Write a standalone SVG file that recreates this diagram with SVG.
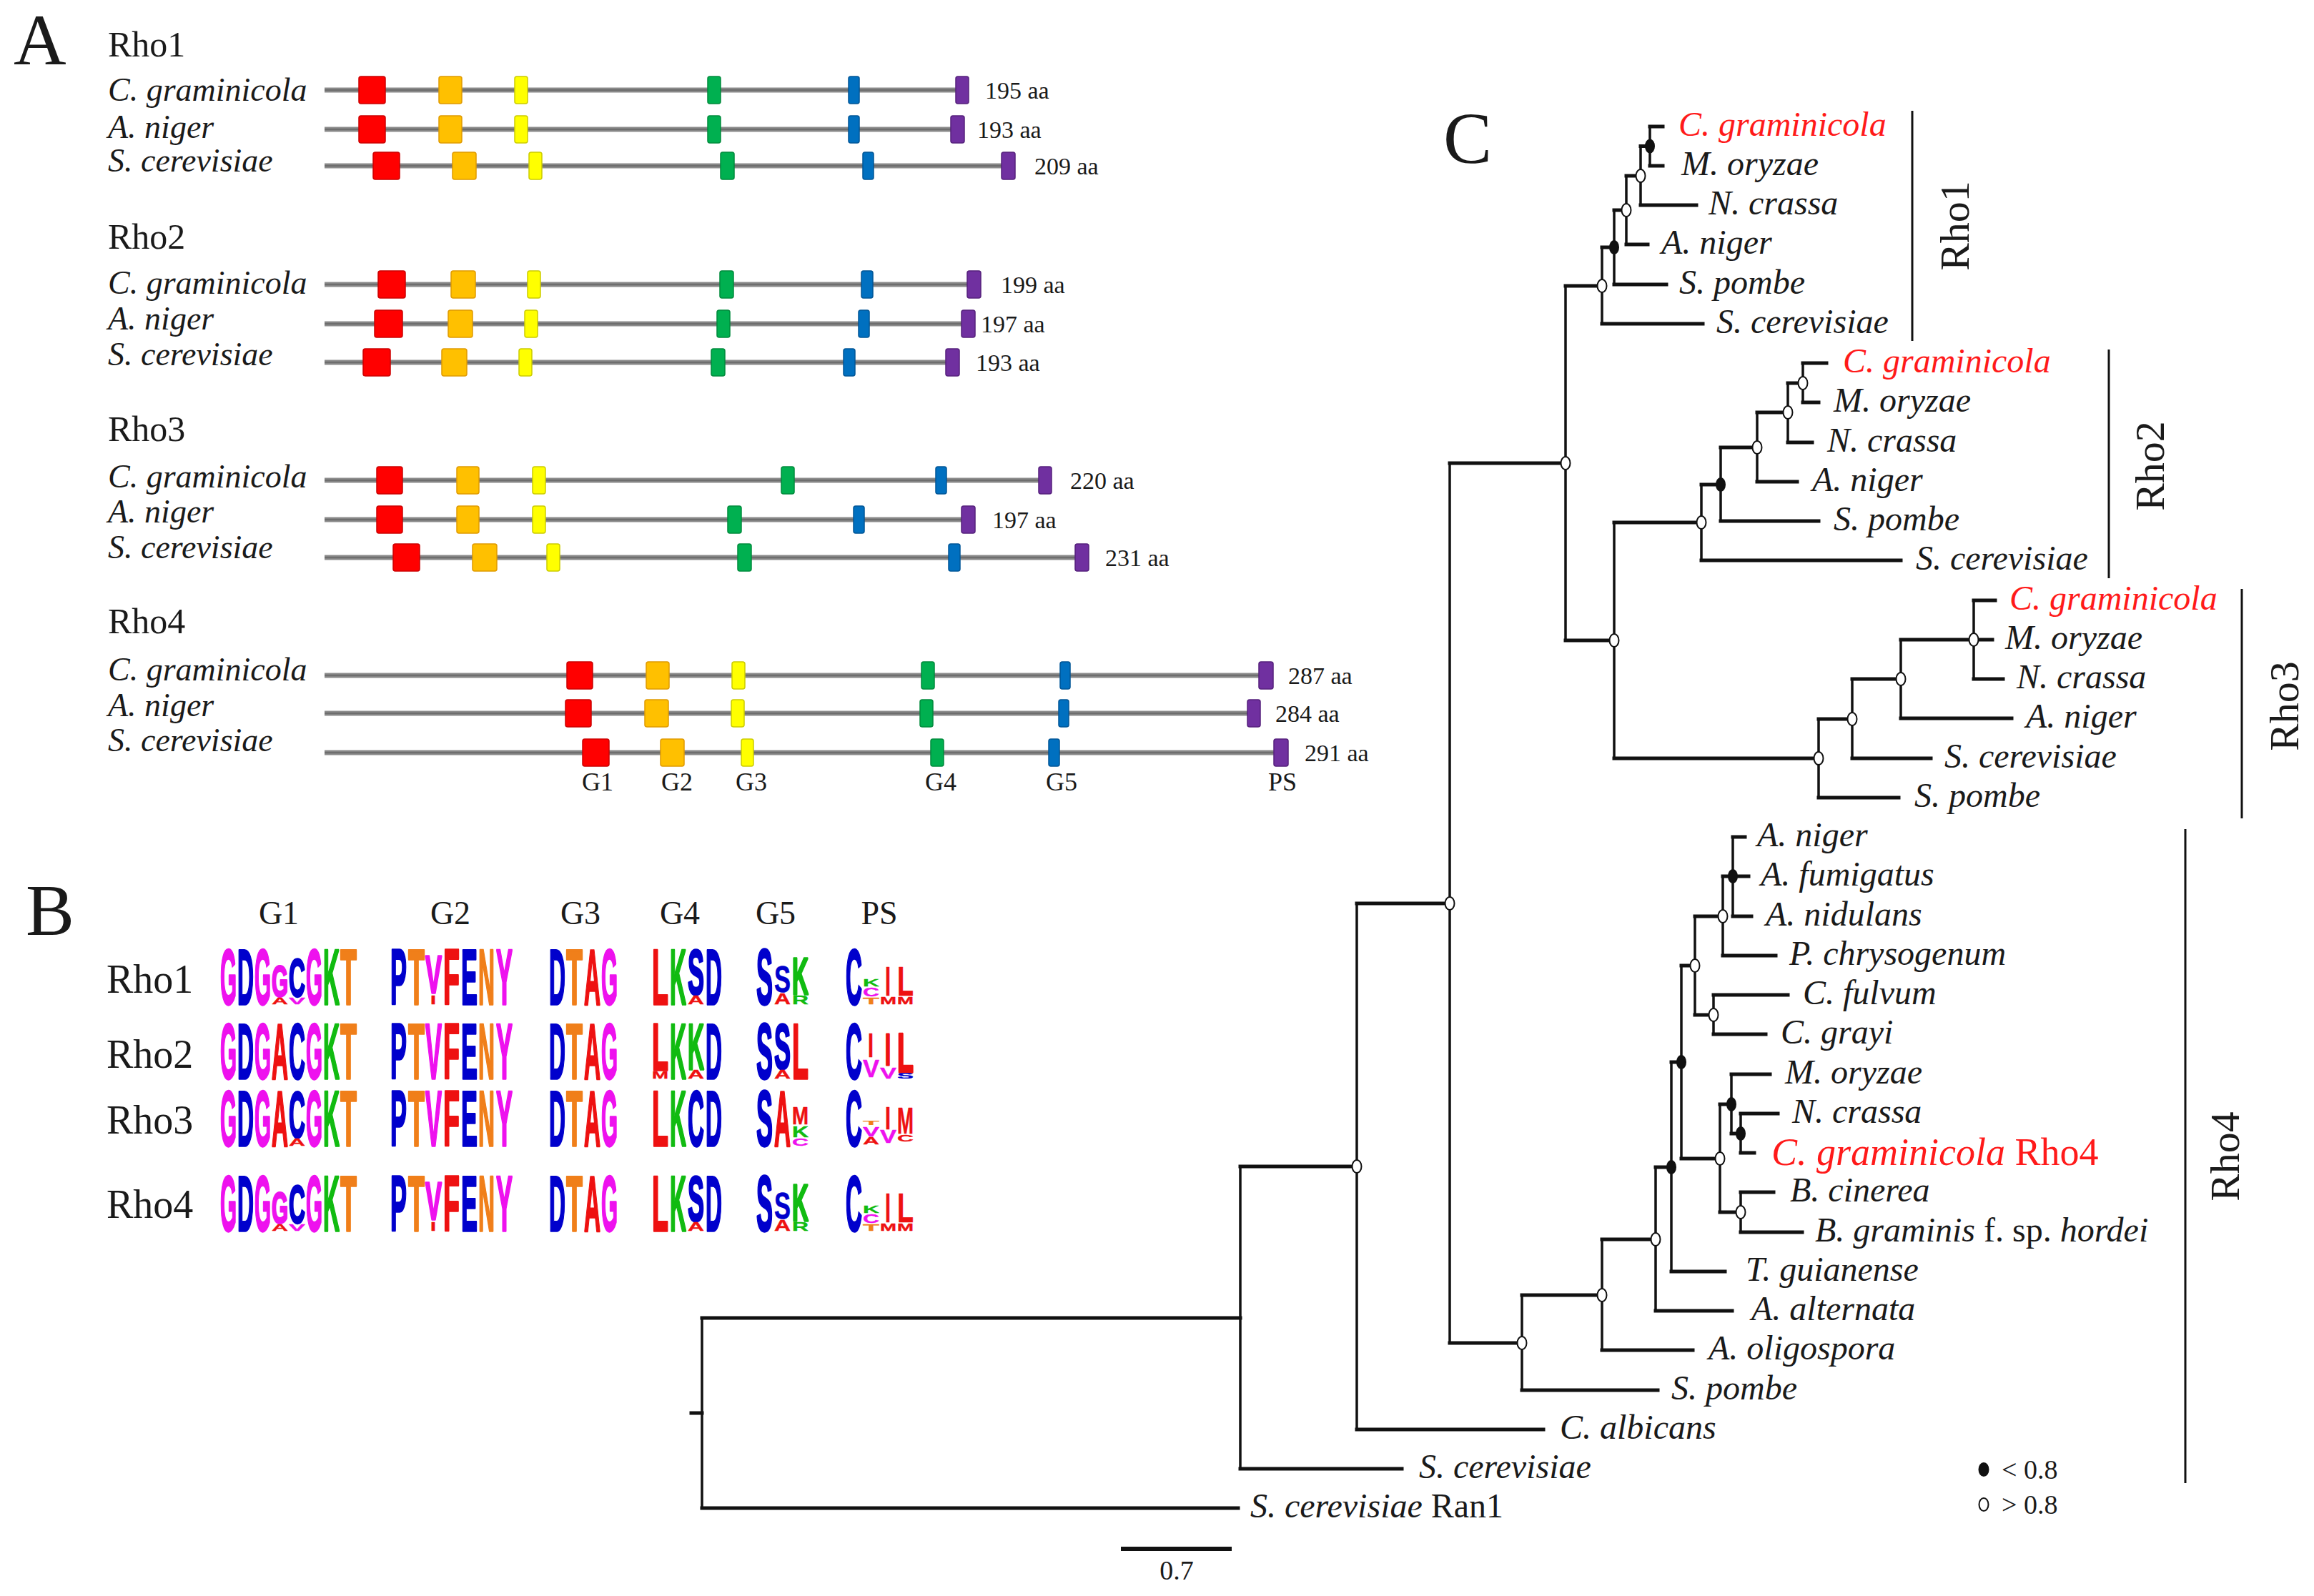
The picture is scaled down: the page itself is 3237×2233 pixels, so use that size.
<svg xmlns="http://www.w3.org/2000/svg" width="3237" height="2233" viewBox="0 0 3237 2233">
<style>
.t{font-family:"Liberation Serif","Times New Roman",serif;fill:#1a1a1a}
.i{font-style:italic}
.red{fill:#ff1a1a}
.pl{font-size:102px}
.rl{font-size:50px}
.sp{font-size:46px;font-style:italic}
.aa{font-size:34px}
.gl{font-size:36px}
.lf{font-size:48px}
.bk{fill:none;stroke:#8c8c8c;stroke-width:7}
.bc{fill:none;stroke:#6e6e6e;stroke-width:2.5}
.cr{fill:#ff0000;stroke:#cc0000;stroke-width:1.5}
.co{fill:#ffc000;stroke:#e09a00;stroke-width:1.5}
.cy{fill:#ffff00;stroke:#cccc00;stroke-width:1.5}
.cg{fill:#00b050;stroke:#008a3c;stroke-width:1.5}
.cb{fill:#0070c0;stroke:#005596;stroke-width:1.5}
.cp{fill:#7030a0;stroke:#55207c;stroke-width:1.5}
.L{font-family:"Liberation Sans",Arial,sans-serif;font-weight:bold;font-size:30px;stroke-width:0.5;vector-effect:non-scaling-stroke;stroke-linejoin:round}
.L[transform$="3.63)"],.L[transform$="3.09)"],.L[transform$="3.01)"],.L[transform$="3.05)"],.L[transform$="2.98)"],.L[transform$="2.58)"],.L[transform$="2.5)"],.L[transform$="2.47)"],.L[transform$="2.43)"],.L[transform$="2.11)"],.L[transform$="2.03)"]{stroke-width:2.5}
.lm{fill:#ee11ee;stroke:#ee11ee}.lb{fill:#0000cc;stroke:#0000cc}.lg{fill:#11bb11;stroke:#11bb11}.lo{fill:#f07f1a;stroke:#f07f1a}.lr{fill:#ee1111;stroke:#ee1111}
.h{fill:none;stroke:#111;stroke-width:5;stroke-linecap:square}
.v{fill:none;stroke:#111;stroke-width:3.5;stroke-linecap:square}
.no{fill:#fff;stroke:#111;stroke-width:2}
.nb{fill:#111;stroke:#111;stroke-width:2}
.brk{stroke:#111;stroke-width:3}
</style>
<rect width="3237" height="2233" fill="#fff"/>

<!-- Panel letters -->
<text class="t pl" x="19" y="90">A</text>
<text class="t pl" x="36" y="1308">B</text>
<text class="t pl" x="2019" y="228">C</text>

<!-- Panel A -->
<g id="panelA">
<g id="A-rho1">
<text class="t rl" x="151" y="79">Rho1</text>
<text class="t sp" x="151" y="141">C. graminicola</text>
<text class="t sp" x="151" y="193">A. niger</text>
<text class="t sp" x="151" y="240">S. cerevisiae</text>
<path class="bk" d="M454 126H1350M454 181H1345M454 232H1415"/>
<path class="bc" d="M454 126H1350M454 181H1345M454 232H1415"/>
<rect class="cr" x="502" y="107" width="37" height="38" rx="3"/><rect class="co" x="614" y="107" width="32" height="38" rx="3"/><rect class="cy" x="720" y="107" width="18" height="38" rx="3"/><rect class="cg" x="990" y="107" width="18" height="38" rx="3"/><rect class="cb" x="1187" y="107" width="15" height="38" rx="3"/><rect class="cp" x="1337" y="107" width="18" height="38" rx="3"/>
<rect class="cr" x="502" y="162" width="37" height="38" rx="3"/><rect class="co" x="614" y="162" width="32" height="38" rx="3"/><rect class="cy" x="720" y="162" width="18" height="38" rx="3"/><rect class="cg" x="990" y="162" width="18" height="38" rx="3"/><rect class="cb" x="1187" y="162" width="15" height="38" rx="3"/><rect class="cp" x="1330" y="162" width="19" height="38" rx="3"/>
<rect class="cr" x="522" y="213" width="37" height="38" rx="3"/><rect class="co" x="633" y="213" width="33" height="38" rx="3"/><rect class="cy" x="740" y="213" width="18" height="38" rx="3"/><rect class="cg" x="1008" y="213" width="19" height="38" rx="3"/><rect class="cb" x="1207" y="213" width="15" height="38" rx="3"/><rect class="cp" x="1401" y="213" width="19" height="38" rx="3"/>
<text class="t aa" x="1378" y="138">195 aa</text>
<text class="t aa" x="1367" y="193">193 aa</text>
<text class="t aa" x="1447" y="244">209 aa</text>
</g>
<g id="A-rho2">
<text class="t rl" x="151" y="348">Rho2</text>
<text class="t sp" x="151" y="411">C. graminicola</text>
<text class="t sp" x="151" y="461">A. niger</text>
<text class="t sp" x="151" y="511">S. cerevisiae</text>
<path class="bk" d="M454 398H1365M454 453H1358M454 507H1335"/>
<path class="bc" d="M454 398H1365M454 453H1358M454 507H1335"/>
<rect class="cr" x="529" y="379" width="38" height="38" rx="3"/><rect class="co" x="631" y="379" width="34" height="38" rx="3"/><rect class="cy" x="738" y="379" width="18" height="38" rx="3"/><rect class="cg" x="1007" y="379" width="19" height="38" rx="3"/><rect class="cb" x="1205" y="379" width="16" height="38" rx="3"/><rect class="cp" x="1353" y="379" width="19" height="38" rx="3"/>
<rect class="cr" x="524" y="434" width="39" height="38" rx="3"/><rect class="co" x="627" y="434" width="34" height="38" rx="3"/><rect class="cy" x="734" y="434" width="18" height="38" rx="3"/><rect class="cg" x="1003" y="434" width="18" height="38" rx="3"/><rect class="cb" x="1201" y="434" width="15" height="38" rx="3"/><rect class="cp" x="1345" y="434" width="19" height="38" rx="3"/>
<rect class="cr" x="508" y="488" width="38" height="38" rx="3"/><rect class="co" x="618" y="488" width="35" height="38" rx="3"/><rect class="cy" x="726" y="488" width="18" height="38" rx="3"/><rect class="cg" x="995" y="488" width="19" height="38" rx="3"/><rect class="cb" x="1180" y="488" width="16" height="38" rx="3"/><rect class="cp" x="1323" y="488" width="19" height="38" rx="3"/>
<text class="t aa" x="1400" y="410">199 aa</text>
<text class="t aa" x="1372" y="465">197 aa</text>
<text class="t aa" x="1365" y="519">193 aa</text>
</g>
<g id="A-rho3">
<text class="t rl" x="151" y="617">Rho3</text>
<text class="t sp" x="151" y="682">C. graminicola</text>
<text class="t sp" x="151" y="731">A. niger</text>
<text class="t sp" x="151" y="781">S. cerevisiae</text>
<path class="bk" d="M454 672H1465M454 727H1358M454 780H1517"/>
<path class="bc" d="M454 672H1465M454 727H1358M454 780H1517"/>
<rect class="cr" x="527" y="653" width="36" height="38" rx="3"/><rect class="co" x="639" y="653" width="31" height="38" rx="3"/><rect class="cy" x="745" y="653" width="18" height="38" rx="3"/><rect class="cg" x="1093" y="653" width="18" height="38" rx="3"/><rect class="cb" x="1309" y="653" width="15" height="38" rx="3"/><rect class="cp" x="1453" y="653" width="18" height="38" rx="3"/>
<rect class="cr" x="527" y="708" width="36" height="38" rx="3"/><rect class="co" x="639" y="708" width="31" height="38" rx="3"/><rect class="cy" x="745" y="708" width="18" height="38" rx="3"/><rect class="cg" x="1018" y="708" width="19" height="38" rx="3"/><rect class="cb" x="1194" y="708" width="15" height="38" rx="3"/><rect class="cp" x="1345" y="708" width="19" height="38" rx="3"/>
<rect class="cr" x="550" y="761" width="37" height="38" rx="3"/><rect class="co" x="661" y="761" width="34" height="38" rx="3"/><rect class="cy" x="765" y="761" width="18" height="38" rx="3"/><rect class="cg" x="1032" y="761" width="19" height="38" rx="3"/><rect class="cb" x="1327" y="761" width="16" height="38" rx="3"/><rect class="cp" x="1504" y="761" width="19" height="38" rx="3"/>
<text class="t aa" x="1497" y="684">220 aa</text>
<text class="t aa" x="1388" y="739">197 aa</text>
<text class="t aa" x="1546" y="792">231 aa</text>
</g>
<g id="A-rho4">
<text class="t rl" x="151" y="886">Rho4</text>
<text class="t sp" x="151" y="952">C. graminicola</text>
<text class="t sp" x="151" y="1002">A. niger</text>
<text class="t sp" x="151" y="1051">S. cerevisiae</text>
<path class="bk" d="M454 945H1775M454 998H1758M454 1053H1796"/>
<path class="bc" d="M454 945H1775M454 998H1758M454 1053H1796"/>
<rect class="cr" x="793" y="926" width="36" height="38" rx="3"/><rect class="co" x="904" y="926" width="32" height="38" rx="3"/><rect class="cy" x="1024" y="926" width="18" height="38" rx="3"/><rect class="cg" x="1289" y="926" width="18" height="38" rx="3"/><rect class="cb" x="1483" y="926" width="14" height="38" rx="3"/><rect class="cp" x="1761" y="926" width="20" height="38" rx="3"/>
<rect class="cr" x="791" y="979" width="36" height="38" rx="3"/><rect class="co" x="902" y="979" width="33" height="38" rx="3"/><rect class="cy" x="1023" y="979" width="18" height="38" rx="3"/><rect class="cg" x="1287" y="979" width="18" height="38" rx="3"/><rect class="cb" x="1481" y="979" width="14" height="38" rx="3"/><rect class="cp" x="1745" y="979" width="18" height="38" rx="3"/>
<rect class="cr" x="815" y="1034" width="37" height="38" rx="3"/><rect class="co" x="924" y="1034" width="33" height="38" rx="3"/><rect class="cy" x="1037" y="1034" width="17" height="38" rx="3"/><rect class="cg" x="1302" y="1034" width="18" height="38" rx="3"/><rect class="cb" x="1467" y="1034" width="15" height="38" rx="3"/><rect class="cp" x="1782" y="1034" width="20" height="38" rx="3"/>
<text class="t aa" x="1802" y="957">287 aa</text>
<text class="t aa" x="1784" y="1010">284 aa</text>
<text class="t aa" x="1825" y="1065">291 aa</text>
<g text-anchor="middle">
<text class="t gl" x="836" y="1106">G1</text>
<text class="t gl" x="947" y="1106">G2</text>
<text class="t gl" x="1051" y="1106">G3</text>
<text class="t gl" x="1316" y="1106">G4</text>
<text class="t gl" x="1485" y="1106">G5</text>
<text class="t gl" x="1794" y="1106">PS</text>
</g>
</g>
</g>

<!-- Panel B -->
<g id="panelB">
<g id="B-headers" text-anchor="middle" font-size="46">
<text class="t" x="390" y="1293">G1</text>
<text class="t" x="630" y="1293">G2</text>
<text class="t" x="812" y="1293">G3</text>
<text class="t" x="951" y="1293">G4</text>
<text class="t" x="1085" y="1293">G5</text>
<text class="t" x="1230" y="1293">PS</text>
</g>
<g id="B-labels" font-size="56">
<text class="t" x="149" y="1389">Rho1</text>
<text class="t" x="149" y="1494">Rho2</text>
<text class="t" x="149" y="1586">Rho3</text>
<text class="t" x="149" y="1704">Rho4</text>
</g>
<g id="logo-rho1" transform="translate(0,1327)">
<text class="L lm" transform="translate(308,78) scale(1,3.63)" textLength="23" lengthAdjust="spacingAndGlyphs">G</text>
<text class="L lb" transform="translate(332,78) scale(1,3.63)" textLength="23" lengthAdjust="spacingAndGlyphs">D</text>
<text class="L lm" transform="translate(356,78) scale(1,3.63)" textLength="23" lengthAdjust="spacingAndGlyphs">G</text>
<text class="L lm" transform="translate(380,67.1) scale(1,2.03)" textLength="23" lengthAdjust="spacingAndGlyphs">G</text>
<text class="L lr" transform="translate(380,78) scale(1,0.44)" textLength="23" lengthAdjust="spacingAndGlyphs">A</text>
<text class="L lb" transform="translate(404,67.1) scale(1,2.5)" textLength="23" lengthAdjust="spacingAndGlyphs">C</text>
<text class="L lm" transform="translate(404,78) scale(1,0.44)" textLength="23" lengthAdjust="spacingAndGlyphs">V</text>
<text class="L lm" transform="translate(428,78) scale(1,3.63)" textLength="23" lengthAdjust="spacingAndGlyphs">G</text>
<text class="L lg" transform="translate(452,78) scale(1,3.63)" textLength="23" lengthAdjust="spacingAndGlyphs">K</text>
<text class="L lo" transform="translate(476,78) scale(1,3.63)" textLength="23" lengthAdjust="spacingAndGlyphs">T</text>
<text class="L lb" transform="translate(546,78) scale(1,3.63)" textLength="23" lengthAdjust="spacingAndGlyphs">P</text>
<text class="L lo" transform="translate(571,78) scale(1,3.63)" textLength="23" lengthAdjust="spacingAndGlyphs">T</text>
<text class="L lm" transform="translate(595,62.4) scale(1,2.47)" textLength="23" lengthAdjust="spacingAndGlyphs">V</text>
<text class="L lr" transform="translate(602,78) scale(1,0.58)" textLength="8" lengthAdjust="spacingAndGlyphs">I</text>
<text class="L lr" transform="translate(620,78) scale(1,3.63)" textLength="23" lengthAdjust="spacingAndGlyphs">F</text>
<text class="L lb" transform="translate(645,78) scale(1,3.63)" textLength="23" lengthAdjust="spacingAndGlyphs">E</text>
<text class="L lo" transform="translate(669,78) scale(1,3.63)" textLength="23" lengthAdjust="spacingAndGlyphs">N</text>
<text class="L lm" transform="translate(694,78) scale(1,3.63)" textLength="23" lengthAdjust="spacingAndGlyphs">Y</text>
<text class="L lb" transform="translate(768,78) scale(1,3.63)" textLength="23" lengthAdjust="spacingAndGlyphs">D</text>
<text class="L lo" transform="translate(792,78) scale(1,3.63)" textLength="23" lengthAdjust="spacingAndGlyphs">T</text>
<text class="L lr" transform="translate(817,78) scale(1,3.63)" textLength="23" lengthAdjust="spacingAndGlyphs">A</text>
<text class="L lm" transform="translate(841,78) scale(1,3.63)" textLength="23" lengthAdjust="spacingAndGlyphs">G</text>
<text class="L lr" transform="translate(912,78) scale(1,3.63)" textLength="23" lengthAdjust="spacingAndGlyphs">L</text>
<text class="L lg" transform="translate(937,78) scale(1,3.63)" textLength="23" lengthAdjust="spacingAndGlyphs">K</text>
<text class="L lb" transform="translate(962,64) scale(1,2.98)" textLength="23" lengthAdjust="spacingAndGlyphs">S</text>
<text class="L lr" transform="translate(962,78) scale(1,0.58)" textLength="23" lengthAdjust="spacingAndGlyphs">A</text>
<text class="L lb" transform="translate(987,78) scale(1,3.63)" textLength="23" lengthAdjust="spacingAndGlyphs">D</text>
<text class="L lb" transform="translate(1058,78) scale(1,3.63)" textLength="23" lengthAdjust="spacingAndGlyphs">S</text>
<text class="L lb" transform="translate(1083,60.8) scale(1,1.74)" textLength="23" lengthAdjust="spacingAndGlyphs">S</text>
<text class="L lr" transform="translate(1083,78) scale(1,0.73)" textLength="23" lengthAdjust="spacingAndGlyphs">A</text>
<text class="L lg" transform="translate(1108,64) scale(1,2.43)" textLength="23" lengthAdjust="spacingAndGlyphs">K</text>
<text class="L lg" transform="translate(1108,78) scale(1,0.58)" textLength="23" lengthAdjust="spacingAndGlyphs">R</text>
<text class="L lb" transform="translate(1183,78) scale(1,3.63)" textLength="23" lengthAdjust="spacingAndGlyphs">C</text>
<text class="L lg" transform="translate(1207,53) scale(1,0.47)" textLength="23" lengthAdjust="spacingAndGlyphs">K</text>
<text class="L lm" transform="translate(1207,67) scale(1,0.58)" textLength="23" lengthAdjust="spacingAndGlyphs">C</text>
<text class="L lo" transform="translate(1207,78) scale(1,0.44)" textLength="23" lengthAdjust="spacingAndGlyphs">T</text>
<text class="L lr" transform="translate(1238,66.3) scale(1,1.89)" textLength="8" lengthAdjust="spacingAndGlyphs">I</text>
<text class="L lr" transform="translate(1231,78) scale(1,0.51)" textLength="23" lengthAdjust="spacingAndGlyphs">M</text>
<text class="L lr" transform="translate(1255,66.3) scale(1,1.89)" textLength="23" lengthAdjust="spacingAndGlyphs">L</text>
<text class="L lr" transform="translate(1255,78) scale(1,0.51)" textLength="23" lengthAdjust="spacingAndGlyphs">M</text>
</g>
<g id="logo-rho2" transform="translate(0,1431)">
<text class="L lm" transform="translate(308,78) scale(1,3.63)" textLength="23" lengthAdjust="spacingAndGlyphs">G</text>
<text class="L lb" transform="translate(332,78) scale(1,3.63)" textLength="23" lengthAdjust="spacingAndGlyphs">D</text>
<text class="L lm" transform="translate(356,78) scale(1,3.63)" textLength="23" lengthAdjust="spacingAndGlyphs">G</text>
<text class="L lr" transform="translate(380,78) scale(1,3.63)" textLength="23" lengthAdjust="spacingAndGlyphs">A</text>
<text class="L lb" transform="translate(404,78) scale(1,3.63)" textLength="23" lengthAdjust="spacingAndGlyphs">C</text>
<text class="L lm" transform="translate(428,78) scale(1,3.63)" textLength="23" lengthAdjust="spacingAndGlyphs">G</text>
<text class="L lg" transform="translate(452,78) scale(1,3.63)" textLength="23" lengthAdjust="spacingAndGlyphs">K</text>
<text class="L lo" transform="translate(476,78) scale(1,3.63)" textLength="23" lengthAdjust="spacingAndGlyphs">T</text>
<text class="L lb" transform="translate(546,78) scale(1,3.63)" textLength="23" lengthAdjust="spacingAndGlyphs">P</text>
<text class="L lo" transform="translate(571,78) scale(1,3.63)" textLength="23" lengthAdjust="spacingAndGlyphs">T</text>
<text class="L lm" transform="translate(595,78) scale(1,3.63)" textLength="23" lengthAdjust="spacingAndGlyphs">V</text>
<text class="L lr" transform="translate(620,78) scale(1,3.63)" textLength="23" lengthAdjust="spacingAndGlyphs">F</text>
<text class="L lb" transform="translate(645,78) scale(1,3.63)" textLength="23" lengthAdjust="spacingAndGlyphs">E</text>
<text class="L lo" transform="translate(669,78) scale(1,3.63)" textLength="23" lengthAdjust="spacingAndGlyphs">N</text>
<text class="L lm" transform="translate(694,78) scale(1,3.63)" textLength="23" lengthAdjust="spacingAndGlyphs">Y</text>
<text class="L lb" transform="translate(768,78) scale(1,3.63)" textLength="23" lengthAdjust="spacingAndGlyphs">D</text>
<text class="L lo" transform="translate(792,78) scale(1,3.63)" textLength="23" lengthAdjust="spacingAndGlyphs">T</text>
<text class="L lr" transform="translate(817,78) scale(1,3.63)" textLength="23" lengthAdjust="spacingAndGlyphs">A</text>
<text class="L lm" transform="translate(841,78) scale(1,3.63)" textLength="23" lengthAdjust="spacingAndGlyphs">G</text>
<text class="L lr" transform="translate(912,66.3) scale(1,3.09)" textLength="23" lengthAdjust="spacingAndGlyphs">L</text>
<text class="L lr" transform="translate(912,78) scale(1,0.47)" textLength="23" lengthAdjust="spacingAndGlyphs">M</text>
<text class="L lg" transform="translate(937,78) scale(1,3.63)" textLength="23" lengthAdjust="spacingAndGlyphs">K</text>
<text class="L lg" transform="translate(962,64.7) scale(1,3.01)" textLength="23" lengthAdjust="spacingAndGlyphs">K</text>
<text class="L lr" transform="translate(962,78) scale(1,0.54)" textLength="23" lengthAdjust="spacingAndGlyphs">A</text>
<text class="L lb" transform="translate(987,78) scale(1,3.63)" textLength="23" lengthAdjust="spacingAndGlyphs">D</text>
<text class="L lb" transform="translate(1058,78) scale(1,3.63)" textLength="23" lengthAdjust="spacingAndGlyphs">S</text>
<text class="L lb" transform="translate(1083,64) scale(1,2.98)" textLength="23" lengthAdjust="spacingAndGlyphs">S</text>
<text class="L lr" transform="translate(1083,78) scale(1,0.54)" textLength="23" lengthAdjust="spacingAndGlyphs">A</text>
<text class="L lr" transform="translate(1108,78) scale(1,3.63)" textLength="23" lengthAdjust="spacingAndGlyphs">L</text>
<text class="L lb" transform="translate(1183,78) scale(1,3.63)" textLength="23" lengthAdjust="spacingAndGlyphs">C</text>
<text class="L lr" transform="translate(1214,48.4) scale(1,1.63)" textLength="8" lengthAdjust="spacingAndGlyphs">I</text>
<text class="L lm" transform="translate(1207,76.4) scale(1,1.16)" textLength="23" lengthAdjust="spacingAndGlyphs">V</text>
<text class="L lr" transform="translate(1238,58.5) scale(1,2.11)" textLength="8" lengthAdjust="spacingAndGlyphs">I</text>
<text class="L lm" transform="translate(1231,78) scale(1,0.73)" textLength="23" lengthAdjust="spacingAndGlyphs">V</text>
<text class="L lr" transform="translate(1255,68.6) scale(1,2.58)" textLength="23" lengthAdjust="spacingAndGlyphs">L</text>
<text class="L lb" transform="translate(1255,78) scale(1,0.36)" textLength="23" lengthAdjust="spacingAndGlyphs">S</text>
</g>
<g id="logo-rho3" transform="translate(0,1525)">
<text class="L lm" transform="translate(308,78) scale(1,3.63)" textLength="23" lengthAdjust="spacingAndGlyphs">G</text>
<text class="L lb" transform="translate(332,78) scale(1,3.63)" textLength="23" lengthAdjust="spacingAndGlyphs">D</text>
<text class="L lm" transform="translate(356,78) scale(1,3.63)" textLength="23" lengthAdjust="spacingAndGlyphs">G</text>
<text class="L lr" transform="translate(380,78) scale(1,3.63)" textLength="23" lengthAdjust="spacingAndGlyphs">A</text>
<text class="L lb" transform="translate(404,65.5) scale(1,3.05)" textLength="23" lengthAdjust="spacingAndGlyphs">C</text>
<text class="L lr" transform="translate(404,78) scale(1,0.51)" textLength="23" lengthAdjust="spacingAndGlyphs">A</text>
<text class="L lm" transform="translate(428,78) scale(1,3.63)" textLength="23" lengthAdjust="spacingAndGlyphs">G</text>
<text class="L lg" transform="translate(452,78) scale(1,3.63)" textLength="23" lengthAdjust="spacingAndGlyphs">K</text>
<text class="L lo" transform="translate(476,78) scale(1,3.63)" textLength="23" lengthAdjust="spacingAndGlyphs">T</text>
<text class="L lb" transform="translate(546,78) scale(1,3.63)" textLength="23" lengthAdjust="spacingAndGlyphs">P</text>
<text class="L lo" transform="translate(571,78) scale(1,3.63)" textLength="23" lengthAdjust="spacingAndGlyphs">T</text>
<text class="L lm" transform="translate(595,78) scale(1,3.63)" textLength="23" lengthAdjust="spacingAndGlyphs">V</text>
<text class="L lr" transform="translate(620,78) scale(1,3.63)" textLength="23" lengthAdjust="spacingAndGlyphs">F</text>
<text class="L lb" transform="translate(645,78) scale(1,3.63)" textLength="23" lengthAdjust="spacingAndGlyphs">E</text>
<text class="L lo" transform="translate(669,78) scale(1,3.63)" textLength="23" lengthAdjust="spacingAndGlyphs">N</text>
<text class="L lm" transform="translate(694,78) scale(1,3.63)" textLength="23" lengthAdjust="spacingAndGlyphs">Y</text>
<text class="L lb" transform="translate(768,78) scale(1,3.63)" textLength="23" lengthAdjust="spacingAndGlyphs">D</text>
<text class="L lo" transform="translate(792,78) scale(1,3.63)" textLength="23" lengthAdjust="spacingAndGlyphs">T</text>
<text class="L lr" transform="translate(817,78) scale(1,3.63)" textLength="23" lengthAdjust="spacingAndGlyphs">A</text>
<text class="L lm" transform="translate(841,78) scale(1,3.63)" textLength="23" lengthAdjust="spacingAndGlyphs">G</text>
<text class="L lr" transform="translate(912,78) scale(1,3.63)" textLength="23" lengthAdjust="spacingAndGlyphs">L</text>
<text class="L lg" transform="translate(937,78) scale(1,3.63)" textLength="23" lengthAdjust="spacingAndGlyphs">K</text>
<text class="L lb" transform="translate(962,78) scale(1,3.63)" textLength="23" lengthAdjust="spacingAndGlyphs">C</text>
<text class="L lb" transform="translate(987,78) scale(1,3.63)" textLength="23" lengthAdjust="spacingAndGlyphs">D</text>
<text class="L lb" transform="translate(1058,78) scale(1,3.63)" textLength="23" lengthAdjust="spacingAndGlyphs">S</text>
<text class="L lr" transform="translate(1083,78) scale(1,3.63)" textLength="23" lengthAdjust="spacingAndGlyphs">A</text>
<text class="L lr" transform="translate(1108,48.4) scale(1,1.16)" textLength="23" lengthAdjust="spacingAndGlyphs">M</text>
<text class="L lg" transform="translate(1108,66.3) scale(1,0.76)" textLength="23" lengthAdjust="spacingAndGlyphs">K</text>
<text class="L lm" transform="translate(1108,78) scale(1,0.47)" textLength="23" lengthAdjust="spacingAndGlyphs">C</text>
<text class="L lb" transform="translate(1183,78) scale(1,3.63)" textLength="23" lengthAdjust="spacingAndGlyphs">C</text>
<text class="L lo" transform="translate(1207,49.1) scale(1,0.33)" textLength="23" lengthAdjust="spacingAndGlyphs">T</text>
<text class="L lm" transform="translate(1207,64.7) scale(1,0.62)" textLength="23" lengthAdjust="spacingAndGlyphs">V</text>
<text class="L lr" transform="translate(1207,76.4) scale(1,0.47)" textLength="23" lengthAdjust="spacingAndGlyphs">A</text>
<text class="L lr" transform="translate(1238,54.6) scale(1,1.45)" textLength="8" lengthAdjust="spacingAndGlyphs">I</text>
<text class="L lm" transform="translate(1231,74.1) scale(1,0.83)" textLength="23" lengthAdjust="spacingAndGlyphs">V</text>
<text class="L lr" transform="translate(1255,60.8) scale(1,1.74)" textLength="23" lengthAdjust="spacingAndGlyphs">M</text>
<text class="L lr" transform="translate(1255,71.8) scale(1,0.44)" textLength="23" lengthAdjust="spacingAndGlyphs">C</text>
</g>
<g id="logo-rho4" transform="translate(0,1644)">
<text class="L lm" transform="translate(308,78) scale(1,3.63)" textLength="23" lengthAdjust="spacingAndGlyphs">G</text>
<text class="L lb" transform="translate(332,78) scale(1,3.63)" textLength="23" lengthAdjust="spacingAndGlyphs">D</text>
<text class="L lm" transform="translate(356,78) scale(1,3.63)" textLength="23" lengthAdjust="spacingAndGlyphs">G</text>
<text class="L lm" transform="translate(380,67.1) scale(1,2.03)" textLength="23" lengthAdjust="spacingAndGlyphs">G</text>
<text class="L lr" transform="translate(380,78) scale(1,0.44)" textLength="23" lengthAdjust="spacingAndGlyphs">A</text>
<text class="L lb" transform="translate(404,67.1) scale(1,2.5)" textLength="23" lengthAdjust="spacingAndGlyphs">C</text>
<text class="L lm" transform="translate(404,78) scale(1,0.44)" textLength="23" lengthAdjust="spacingAndGlyphs">V</text>
<text class="L lm" transform="translate(428,78) scale(1,3.63)" textLength="23" lengthAdjust="spacingAndGlyphs">G</text>
<text class="L lg" transform="translate(452,78) scale(1,3.63)" textLength="23" lengthAdjust="spacingAndGlyphs">K</text>
<text class="L lo" transform="translate(476,78) scale(1,3.63)" textLength="23" lengthAdjust="spacingAndGlyphs">T</text>
<text class="L lb" transform="translate(546,78) scale(1,3.63)" textLength="23" lengthAdjust="spacingAndGlyphs">P</text>
<text class="L lo" transform="translate(571,78) scale(1,3.63)" textLength="23" lengthAdjust="spacingAndGlyphs">T</text>
<text class="L lm" transform="translate(595,62.4) scale(1,2.47)" textLength="23" lengthAdjust="spacingAndGlyphs">V</text>
<text class="L lr" transform="translate(602,78) scale(1,0.58)" textLength="8" lengthAdjust="spacingAndGlyphs">I</text>
<text class="L lr" transform="translate(620,78) scale(1,3.63)" textLength="23" lengthAdjust="spacingAndGlyphs">F</text>
<text class="L lb" transform="translate(645,78) scale(1,3.63)" textLength="23" lengthAdjust="spacingAndGlyphs">E</text>
<text class="L lo" transform="translate(669,78) scale(1,3.63)" textLength="23" lengthAdjust="spacingAndGlyphs">N</text>
<text class="L lm" transform="translate(694,78) scale(1,3.63)" textLength="23" lengthAdjust="spacingAndGlyphs">Y</text>
<text class="L lb" transform="translate(768,78) scale(1,3.63)" textLength="23" lengthAdjust="spacingAndGlyphs">D</text>
<text class="L lo" transform="translate(792,78) scale(1,3.63)" textLength="23" lengthAdjust="spacingAndGlyphs">T</text>
<text class="L lr" transform="translate(817,78) scale(1,3.63)" textLength="23" lengthAdjust="spacingAndGlyphs">A</text>
<text class="L lm" transform="translate(841,78) scale(1,3.63)" textLength="23" lengthAdjust="spacingAndGlyphs">G</text>
<text class="L lr" transform="translate(912,78) scale(1,3.63)" textLength="23" lengthAdjust="spacingAndGlyphs">L</text>
<text class="L lg" transform="translate(937,78) scale(1,3.63)" textLength="23" lengthAdjust="spacingAndGlyphs">K</text>
<text class="L lb" transform="translate(962,64) scale(1,2.98)" textLength="23" lengthAdjust="spacingAndGlyphs">S</text>
<text class="L lr" transform="translate(962,78) scale(1,0.58)" textLength="23" lengthAdjust="spacingAndGlyphs">A</text>
<text class="L lb" transform="translate(987,78) scale(1,3.63)" textLength="23" lengthAdjust="spacingAndGlyphs">D</text>
<text class="L lb" transform="translate(1058,78) scale(1,3.63)" textLength="23" lengthAdjust="spacingAndGlyphs">S</text>
<text class="L lb" transform="translate(1083,60.8) scale(1,1.74)" textLength="23" lengthAdjust="spacingAndGlyphs">S</text>
<text class="L lr" transform="translate(1083,78) scale(1,0.73)" textLength="23" lengthAdjust="spacingAndGlyphs">A</text>
<text class="L lg" transform="translate(1108,64) scale(1,2.43)" textLength="23" lengthAdjust="spacingAndGlyphs">K</text>
<text class="L lg" transform="translate(1108,78) scale(1,0.58)" textLength="23" lengthAdjust="spacingAndGlyphs">R</text>
<text class="L lb" transform="translate(1183,78) scale(1,3.63)" textLength="23" lengthAdjust="spacingAndGlyphs">C</text>
<text class="L lg" transform="translate(1207,53) scale(1,0.47)" textLength="23" lengthAdjust="spacingAndGlyphs">K</text>
<text class="L lm" transform="translate(1207,67) scale(1,0.58)" textLength="23" lengthAdjust="spacingAndGlyphs">C</text>
<text class="L lo" transform="translate(1207,78) scale(1,0.44)" textLength="23" lengthAdjust="spacingAndGlyphs">T</text>
<text class="L lr" transform="translate(1238,66.3) scale(1,1.89)" textLength="8" lengthAdjust="spacingAndGlyphs">I</text>
<text class="L lr" transform="translate(1231,78) scale(1,0.51)" textLength="23" lengthAdjust="spacingAndGlyphs">M</text>
<text class="L lr" transform="translate(1255,66.3) scale(1,1.89)" textLength="23" lengthAdjust="spacingAndGlyphs">L</text>
<text class="L lr" transform="translate(1255,78) scale(1,0.51)" textLength="23" lengthAdjust="spacingAndGlyphs">M</text>
</g>
</g>

<!-- Panel C: tree -->
<g id="connectors">
<path class="h" d="M2308 177H2326M2308 232H2326M2295 287H2373M2275 342H2305M2258 398H2331M2241 453H2382M2522 508H2555M2522 563H2544M2501 619H2535M2458 674H2514M2407 729H2544M2380 784H2659M2761 840H2791M2761 895H2787M2761 950H2802M2659 1005H2814M2591 1061H2701M2544 1116H2656M2424 1171H2441M2424 1226H2446M2424 1282H2450M2410 1337H2484M2397 1392H2501M2397 1447H2470M2422 1503H2476M2435 1558H2487M2435 1613H2454M2435 1668H2481M2435 1724H2521M2338 1779H2413M2316 1834H2423M2241 1889H2368M2129 1945H2319M1898 2000H2159M1735 2055H1961M982 2110H1732"/>
<path class="h" d="M2295 204.5H2308M2275 246H2295M2258 294H2275M2241 346H2258M2190 400H2241M2501 536H2522M2458 577H2501M2407 626H2458M2380 678H2407M2258 731H2380M2659 895H2761M2591 950H2659M2544 1006H2591M2258 1061H2544M2190 896H2258M2028 648H2190M2410 1226H2424M2371 1282H2410M2371 1420H2397M2352 1351H2371M2422 1586H2435M2406 1545H2422M2406 1696H2435M2352 1621H2406M2338 1486H2352M2316 1633H2338M2241 1734H2316M2129 1812H2241M2028 1879H2129M1898 1264H2028M1735 1632H1898M982 1844H1735M967 1977H982"/>
<path class="v" d="M2308 177V232M2295 204.5V287M2275 246V342M2258 294V398M2241 346V453M2522 508V563M2501 536V619M2458 577V674M2407 626V729M2380 678V784M2761 840V950M2659 895V1005M2591 950V1061M2544 1006V1116M2258 731V1061M2190 400V896M2424 1171V1282M2410 1226V1337M2397 1392V1447M2371 1282V1420M2435 1558V1613M2422 1503V1586M2435 1668V1724M2406 1545V1696M2352 1351V1621M2338 1486V1779M2316 1633V1834M2241 1734V1889M2129 1812V1945M2028 648V1879M1898 1264V2000M1735 1632V2055M982 1844V2110"/>
</g>

<g id="internal-nodes">
<g id="n-a1"><ellipse class="nb" cx="2308" cy="204.5" rx="6" ry="9"/></g>
<g id="n-b1"><ellipse class="no" cx="2295" cy="246" rx="6.5" ry="9"/></g>
<g id="n-c1"><ellipse class="no" cx="2275" cy="294" rx="6.5" ry="9"/></g>
<g id="n-d1"><ellipse class="nb" cx="2258" cy="346" rx="6" ry="9"/></g>
<g id="n-e1"><ellipse class="no" cx="2241" cy="400" rx="6.5" ry="9"/></g>
<g id="n-a2"><ellipse class="no" cx="2522" cy="536" rx="6.5" ry="9"/></g>
<g id="n-b2"><ellipse class="no" cx="2501" cy="577" rx="6.5" ry="9"/></g>
<g id="n-c2"><ellipse class="no" cx="2458" cy="626" rx="6.5" ry="9"/></g>
<g id="n-d2"><ellipse class="nb" cx="2407" cy="678" rx="6" ry="9"/></g>
<g id="n-e2"><ellipse class="no" cx="2380" cy="731" rx="6.5" ry="9"/></g>
<g id="n-a3"><ellipse class="no" cx="2761" cy="895" rx="6.5" ry="9"/></g>
<g id="n-b3"><ellipse class="no" cx="2659" cy="950" rx="6.5" ry="9"/></g>
<g id="n-c3"><ellipse class="no" cx="2591" cy="1006" rx="6.5" ry="9"/></g>
<g id="n-d3"><ellipse class="no" cx="2544" cy="1061" rx="6.5" ry="9"/></g>
<g id="n-23"><ellipse class="no" cx="2258" cy="896" rx="6.5" ry="9"/></g>
<g id="n-A"><ellipse class="no" cx="2190" cy="648" rx="6.5" ry="9"/></g>
<g id="n-a4"><ellipse class="nb" cx="2424" cy="1226" rx="6" ry="9"/></g>
<g id="n-b4"><ellipse class="no" cx="2410" cy="1282" rx="6.5" ry="9"/></g>
<g id="n-c4"><ellipse class="no" cx="2397" cy="1420" rx="6.5" ry="9"/></g>
<g id="n-d4"><ellipse class="no" cx="2371" cy="1351" rx="6.5" ry="9"/></g>
<g id="n-e4"><ellipse class="nb" cx="2435" cy="1586" rx="6" ry="9"/></g>
<g id="n-f4"><ellipse class="nb" cx="2422" cy="1545" rx="6" ry="9"/></g>
<g id="n-h4"><ellipse class="no" cx="2435" cy="1696" rx="6.5" ry="9"/></g>
<g id="n-g4"><ellipse class="no" cx="2406" cy="1621" rx="6.5" ry="9"/></g>
<g id="n-i4"><ellipse class="nb" cx="2352" cy="1486" rx="6" ry="9"/></g>
<g id="n-j4"><ellipse class="nb" cx="2338" cy="1633" rx="6" ry="9"/></g>
<g id="n-k4"><ellipse class="no" cx="2316" cy="1734" rx="6.5" ry="9"/></g>
<g id="n-l4"><ellipse class="no" cx="2241" cy="1812" rx="6.5" ry="9"/></g>
<g id="n-m4"><ellipse class="no" cx="2129" cy="1879" rx="6.5" ry="9"/></g>
<g id="n-B"><ellipse class="no" cx="2028" cy="1264" rx="6.5" ry="9"/></g>
<g id="n-C"><ellipse class="no" cx="1898" cy="1632" rx="6.5" ry="9"/></g>
</g>

<g id="leaves" class="t lf">
<g id="leaf0"><text class="i red" x="2348" y="190">C. graminicola</text></g>
<g id="leaf1"><text class="i" x="2352" y="245">M. oryzae</text></g>
<g id="leaf2"><text class="i" x="2390" y="300">N. crassa</text></g>
<g id="leaf3"><text class="i" x="2324" y="355">A. niger</text></g>
<g id="leaf4"><text class="i" x="2349" y="411">S. pombe</text></g>
<g id="leaf5"><text class="i" x="2401" y="466">S. cerevisiae</text></g>
<g id="leaf6"><text class="i red" x="2578" y="521">C. graminicola</text></g>
<g id="leaf7"><text class="i" x="2565" y="576">M. oryzae</text></g>
<g id="leaf8"><text class="i" x="2556" y="632">N. crassa</text></g>
<g id="leaf9"><text class="i" x="2535" y="687">A. niger</text></g>
<g id="leaf10"><text class="i" x="2565" y="742">S. pombe</text></g>
<g id="leaf11"><text class="i" x="2680" y="797">S. cerevisiae</text></g>
<g id="leaf12"><text class="i red" x="2811" y="853">C. graminicola</text></g>
<g id="leaf13"><text class="i" x="2805" y="908">M. oryzae</text></g>
<g id="leaf14"><text class="i" x="2821" y="963">N. crassa</text></g>
<g id="leaf15"><text class="i" x="2834" y="1018">A. niger</text></g>
<g id="leaf16"><text class="i" x="2720" y="1074">S. cerevisiae</text></g>
<g id="leaf17"><text class="i" x="2678" y="1129">S. pombe</text></g>
<g id="leaf18"><text class="i" x="2458" y="1184">A. niger</text></g>
<g id="leaf19"><text class="i" x="2463" y="1239">A. fumigatus</text></g>
<g id="leaf20"><text class="i" x="2470" y="1295">A. nidulans</text></g>
<g id="leaf21"><text class="i" x="2503" y="1350">P. chrysogenum</text></g>
<g id="leaf22"><text class="i" x="2522" y="1405">C. fulvum</text></g>
<g id="leaf23"><text class="i" x="2491" y="1460">C. grayi</text></g>
<g id="leaf24"><text class="i" x="2497" y="1516">M. oryzae</text></g>
<g id="leaf25"><text class="i" x="2507" y="1571">N. crassa</text></g>
<g id="leaf26"><text class="red" x="2478" y="1630" font-size="54"><tspan class="i">C. graminicola</tspan> Rho4</text></g>
<g id="leaf27"><text class="i" x="2504" y="1681">B. cinerea</text></g>
<g id="leaf28"><text x="2539" y="1737"><tspan class="i">B. graminis</tspan> f. sp. <tspan class="i">hordei</tspan></text></g>
<g id="leaf29"><text class="i" x="2442" y="1792">T. guianense</text></g>
<g id="leaf30"><text class="i" x="2450" y="1847">A. alternata</text></g>
<g id="leaf31"><text class="i" x="2390" y="1902">A. oligospora</text></g>
<g id="leaf32"><text class="i" x="2338" y="1958">S. pombe</text></g>
<g id="leaf33"><text class="i" x="2182" y="2013">C. albicans</text></g>
<g id="leaf34"><text class="i" x="1985" y="2068">S. cerevisiae</text></g>
<g id="leaf35"><text x="1749" y="2123"><tspan class="i">S. cerevisiae</tspan> Ran1</text></g>
</g>

<g id="clade-brackets">
<line class="brk" x1="2675" y1="155" x2="2675" y2="477"/>
<line class="brk" x1="2950" y1="489" x2="2950" y2="809"/>
<line class="brk" x1="3136" y1="824" x2="3136" y2="1145"/>
<line class="brk" x1="3057" y1="1160" x2="3057" y2="2075"/>
<g class="t" font-size="58" text-anchor="middle">
<text transform="translate(2754,316) rotate(-90)">Rho1</text>
<text transform="translate(3027,652) rotate(-90)">Rho2</text>
<text transform="translate(3215,988) rotate(-90)">Rho3</text>
<text transform="translate(3132,1618) rotate(-90)">Rho4</text>
</g>
</g>

<g id="legend">
<ellipse class="nb" cx="2775" cy="2056" rx="6.5" ry="9"/>
<text class="t" x="2800" y="2069" font-size="38">&lt; 0.8</text>
<ellipse class="no" cx="2775" cy="2105" rx="6.5" ry="9"/>
<text class="t" x="2800" y="2118" font-size="38">&gt; 0.8</text>
</g>

<g id="scale-bar">
<line x1="1568" y1="2167" x2="1723" y2="2167" stroke="#111" stroke-width="6"/>
<text class="t" x="1646" y="2210" font-size="38" text-anchor="middle">0.7</text>
</g>
</svg>
